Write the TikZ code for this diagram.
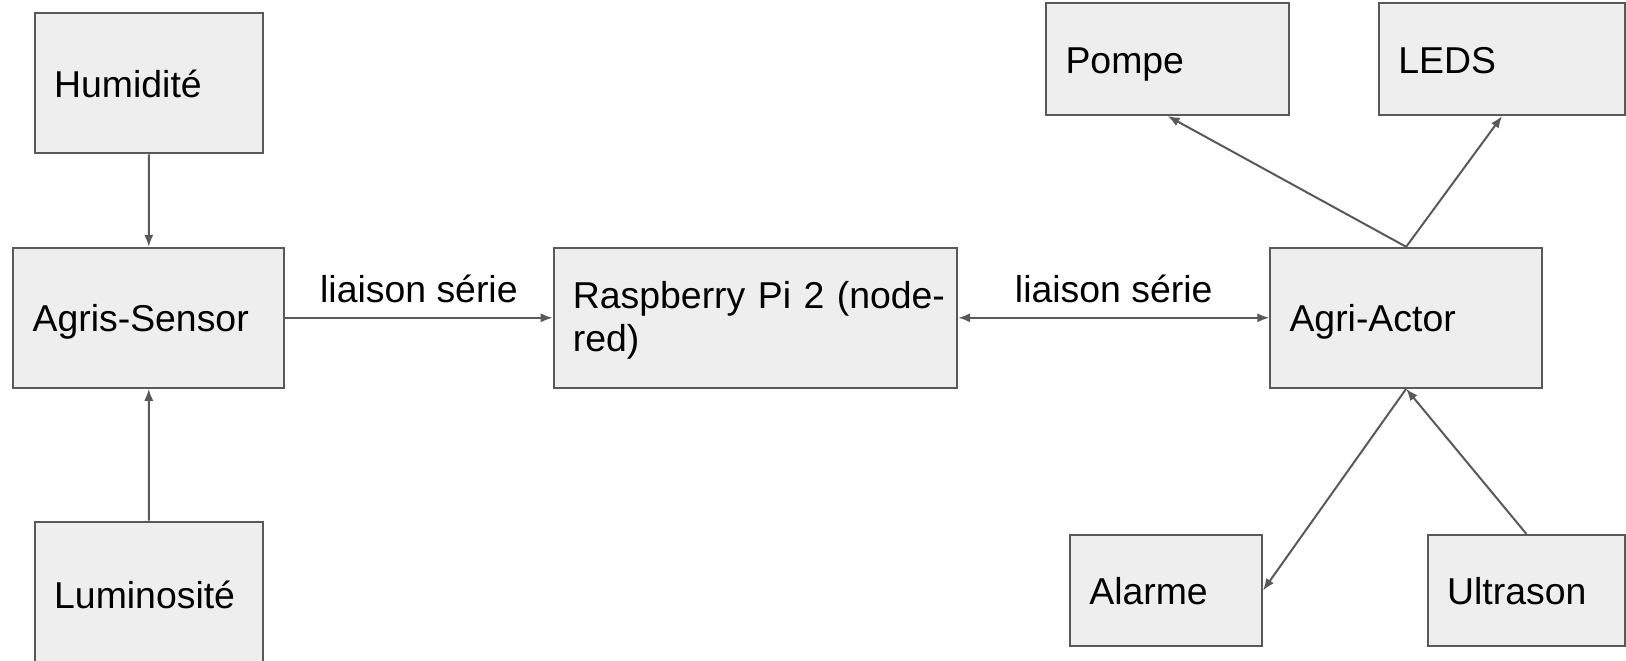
\documentclass[tikz,border=0pt]{standalone}
\usepackage{fontspec}
\setmainfont{Liberation Sans}
\usetikzlibrary{arrows.meta}
\definecolor{boxfill}{HTML}{EEEEEE}
\definecolor{linegray}{HTML}{595959}
\newcommand\dgfont{\fontsize{18.7}{21.35}\selectfont}
\begin{document}
\begin{tikzpicture}[x=1pt,y=1pt,
  blk/.style={draw=linegray, fill=boxfill, line width=1pt, rectangle,
    anchor=north west, inner xsep=9.6pt, inner ysep=0pt,
    text height=14pt, text depth=0pt,
    align=left, font=\dgfont},
  tip/.tip={Latex[length=6pt,width=4.6pt]},
  conn/.style={draw=linegray, line width=1pt, -tip},
  biconn/.style={draw=linegray, line width=1pt, tip-tip},
  lbl/.style={font=\dgfont, inner sep=0pt, anchor=south, yshift=7pt}]
\useasboundingbox (0,0) rectangle (813,-330);

% sensor side
\node[blk, minimum width=114pt, minimum height=70pt, text width=94.8pt] (hum) at (17,-6.2) {Humidité};
\node[blk, minimum width=135.35pt, minimum height=70pt, text width=116.15pt] (sensor) at (6.2,-123.4) {Agris-Sensor};
\node[blk, minimum width=114pt, minimum height=72.7pt, text width=94.8pt] (lum) at (17,-260.3) {Luminosité};

% controller, two lines of text
\node[blk, minimum width=201.7pt, minimum height=70pt, text width=182.5pt,
  text height=13.4pt, text depth=22.4pt] (rpi) at (276.35,-123.4)
  {\mbox{Raspberry Pi 2 (node-}\\red)};

% actuator side
\node[blk, minimum width=135.85pt, minimum height=70pt, text width=116.65pt] (actor) at (634.65,-123.4) {Agri-Actor};
\node[blk, minimum width=121.3pt, minimum height=56pt, text width=102.1pt] (pompe) at (522.65,-1) {Pompe};
\node[blk, minimum width=122.9pt, minimum height=56pt, text width=103.7pt] (leds) at (689.1,-1) {LEDS};
\node[blk, minimum width=95.95pt, minimum height=55.5pt, text width=76.75pt] (alarme) at (534.55,-267) {Alarme};
\node[blk, minimum width=98.55pt, minimum height=55.5pt, text width=79.35pt] (ultra) at (713.45,-267) {Ultrason};

% connections
\draw[conn] (hum.south) -- (sensor.north);
\draw[conn] (lum.north) -- (sensor.south);
\draw[conn] (sensor.east) -- node[lbl] {liaison série} (rpi.west);
\draw[biconn] (rpi.east) -- node[lbl] {liaison série} (actor.west);
\draw[conn] (actor.north) -- (pompe.south);
\draw[conn] (actor.north) -- (leds.south);
\draw[conn] (actor.south) -- (alarme.east);
\draw[conn] (ultra.north) -- (actor.south);
\end{tikzpicture}
\end{document}
